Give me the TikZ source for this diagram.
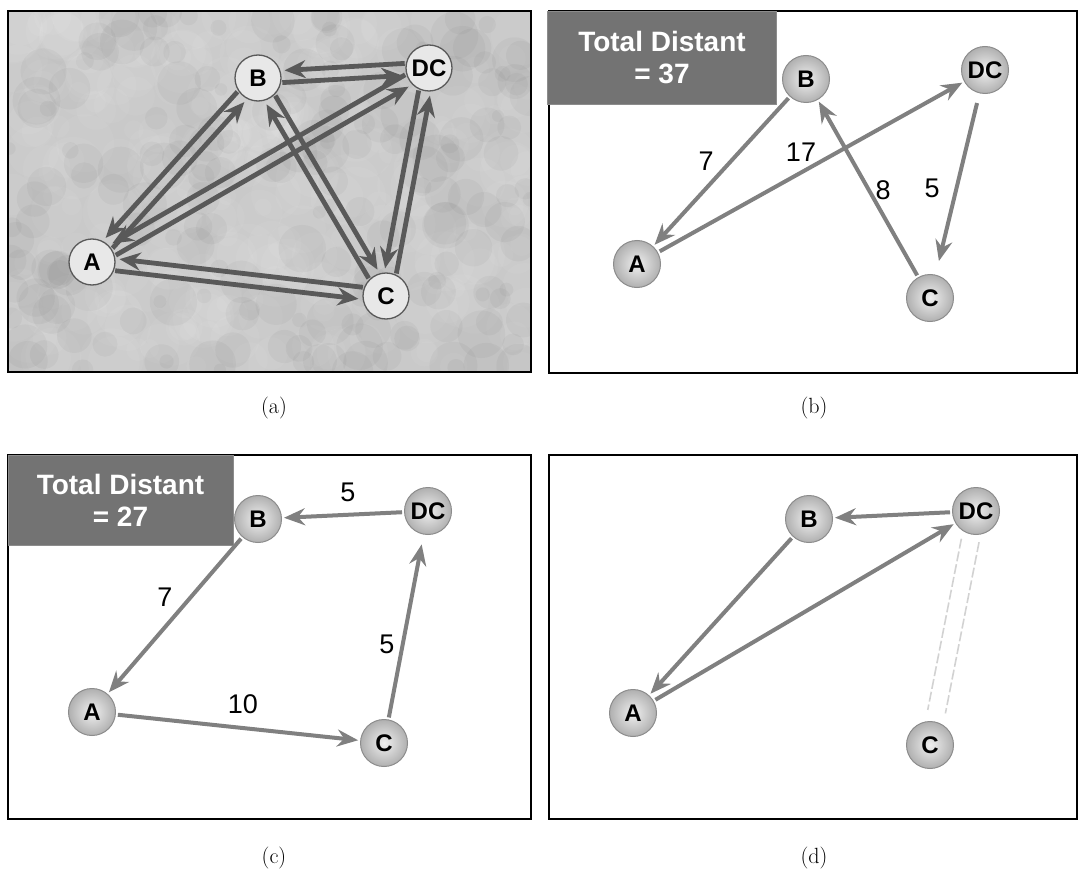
\documentclass[tikz,border=0pt]{standalone}
\usepackage{fontspec}
\newfontfamily\arial{Liberation Sans}
\usetikzlibrary{arrows.meta,calc}

\tikzset{
  frame/.style={draw=black, line width=2.8pt},
  % nodes of the full graph (panel a)
  plainnode/.style={circle, minimum size=46pt, inner sep=0pt, fill=gray!18,
    draw=black!65, line width=1.3pt, font=\arial\bfseries\fontsize{24}{24}\selectfont},
  % shaded nodes of the route panels
  ballnode/.style={circle, minimum size=47pt, inner sep=0pt,
    inner color=gray!12, outer color=gray!62, draw=black!45, line width=1pt,
    font=\arial\bfseries\fontsize{24}{24}\selectfont},
  aedge/.style={draw=black!65, line width=4.8pt,
    -{Stealth[length=21pt,width=18pt,inset=7pt]}},
  redge/.style={draw=black!50, line width=4pt,
    -{Stealth[length=21pt,width=17pt,inset=7pt]}, shorten >=2pt, shorten <=2pt},
  ghost/.style={draw=gray!35, line width=1.6pt, dash pattern=on 10pt off 3pt},
  dist/.style={font=\arial\fontsize{27}{27}\selectfont},
  totalbox/.style={fill=black!55, draw=black!45, text=white, align=center,
    font=\arial\bfseries\fontsize{28}{32}\selectfont},
  caption/.style={font=\fontsize{22}{22}\selectfont}
}

% two opposite arrows between nodes #1 and #2, side by side;
% #3/#4 choose on which side the arrow #1 -> #2 runs
\newcommand\twoway[4]{%
  \draw[aedge] ($(#1)!24pt!(#2)!6pt!#3:(#2)$) -- ($(#2)!27pt!(#1)!6pt!#4:(#1)$);
  \draw[aedge] ($(#2)!24pt!(#1)!6pt!#3:(#1)$) -- ($(#1)!27pt!(#2)!6pt!#4:(#2)$);}

\begin{document}
\begin{tikzpicture}[x=1pt, y=-1pt]
\useasboundingbox (0,0) rectangle (1083,869);

% ---------------- (a) all connections ----------------
\fill[gray!42] (8,11) rectangle (531,372);
% faint mottling of the backdrop
\begin{scope}
  \clip (8,11) rectangle (531,372);
  \pgfmathsetseed{42}
  \foreach \i in {1,...,300}{
    \pgfmathsetmacro\px{8+523*rnd}
    \pgfmathsetmacro\py{11+361*rnd}
    \pgfmathsetmacro\pr{8+24*rnd}
    \fill[white, opacity=0.05] (\px,\py) circle[radius=\pr];
  }
  \foreach \i in {1,...,200}{
    \pgfmathsetmacro\px{8+523*rnd}
    \pgfmathsetmacro\py{11+361*rnd}
    \pgfmathsetmacro\pr{6+18*rnd}
    \fill[black, opacity=0.03] (\px,\py) circle[radius=\pr];
  }
\end{scope}
\node[plainnode] (aB)  at (258,78)  {B};
\node[plainnode] (aDC) at (429,68)  {DC};
\node[plainnode] (aA)  at (92,262)  {A};
\node[plainnode] (aC)  at (386,296) {C};
\twoway{aB}{aDC}{-90}{90}
\twoway{aA}{aB}{-90}{90}
\twoway{aA}{aDC}{-90}{90}
\twoway{aB}{aC}{90}{-90}
\twoway{aDC}{aC}{-90}{90}
\twoway{aC}{aA}{-90}{90}
\draw[frame] (8,11) rectangle (531,372);
\node[caption] (capa) at (274,408) {(a)};

% ---------------- (b) route of length 37 ----------------
\draw[frame] (549,11) rectangle (1077,373);
\node[totalbox, minimum width=229pt, minimum height=93pt] (tb) at (662,57.5)
  {Total Distant\\= 37};
\node[ballnode] (bB)  at (806,79)  {B};
\node[ballnode] (bDC) at (985,70)  {DC};
\node[ballnode] (bA)  at (637,264) {A};
\node[ballnode] (bC)  at (930,298) {C};
\draw[redge] (bB) -- (bA);
\draw[redge] (bA) -- (bDC);
\draw[redge] (bC) -- (bB);
\draw[redge, shorten >=14pt, shorten <=10pt] (bDC) -- (bC);
\node[dist] (l7b)  at (706,161) {7};
\node[dist] (l17b) at (801,152) {17};
\node[dist] (l8b)  at (883,190) {8};
\node[dist] (l5b)  at (932,188) {5};
\node[caption] (capb) at (814,408) {(b)};

% ---------------- (c) route of length 27 ----------------
\draw[frame] (8,455) rectangle (531,819);
\node[totalbox, minimum width=225pt, minimum height=90pt] (tc) at (120.5,500)
  {Total Distant\\= 27};
\node[ballnode] (cB)  at (258,519) {B};
\node[ballnode] (cDC) at (428,511) {DC};
\node[ballnode] (cA)  at (92,712)  {A};
\node[ballnode] (cC)  at (384,743) {C};
\draw[redge] (cDC) -- (cB);
\draw[redge] (cB) -- (cA);
\draw[redge] (cA) -- (cC);
\draw[redge, shorten >=10pt] (cC) -- (cDC);
\node[dist] (l5c)  at (348,492) {5};
\node[dist] (l7c)  at (165,597) {7};
\node[dist] (l5cc) at (387,644) {5};
\node[dist] (l10c) at (243,704) {10};
\node[caption] (capc) at (274,858) {(c)};

% ---------------- (d) route after removing C ----------------
\draw[frame] (549,455) rectangle (1077,819);
\node[ballnode] (dB)  at (809,519) {B};
\node[ballnode] (dDC) at (976,511) {DC};
\node[ballnode] (dA)  at (633,713) {A};
\node[ballnode] (dC)  at (930,745) {C};
\draw[redge] (dDC) -- (dB);
\draw[redge] (dB) -- (dA);
\draw[redge] (dA) -- (dDC);
\draw[ghost] ($(dDC)!30pt!(dC)!9pt!-90:(dC)$) -- ($(dC)!34pt!(dDC)!9pt!90:(dDC)$);
\draw[ghost] ($(dDC)!30pt!(dC)!9pt!90:(dC)$) -- ($(dC)!34pt!(dDC)!9pt!-90:(dDC)$);
\node[caption] (capd) at (814,858) {(d)};
\end{tikzpicture}
\end{document}
